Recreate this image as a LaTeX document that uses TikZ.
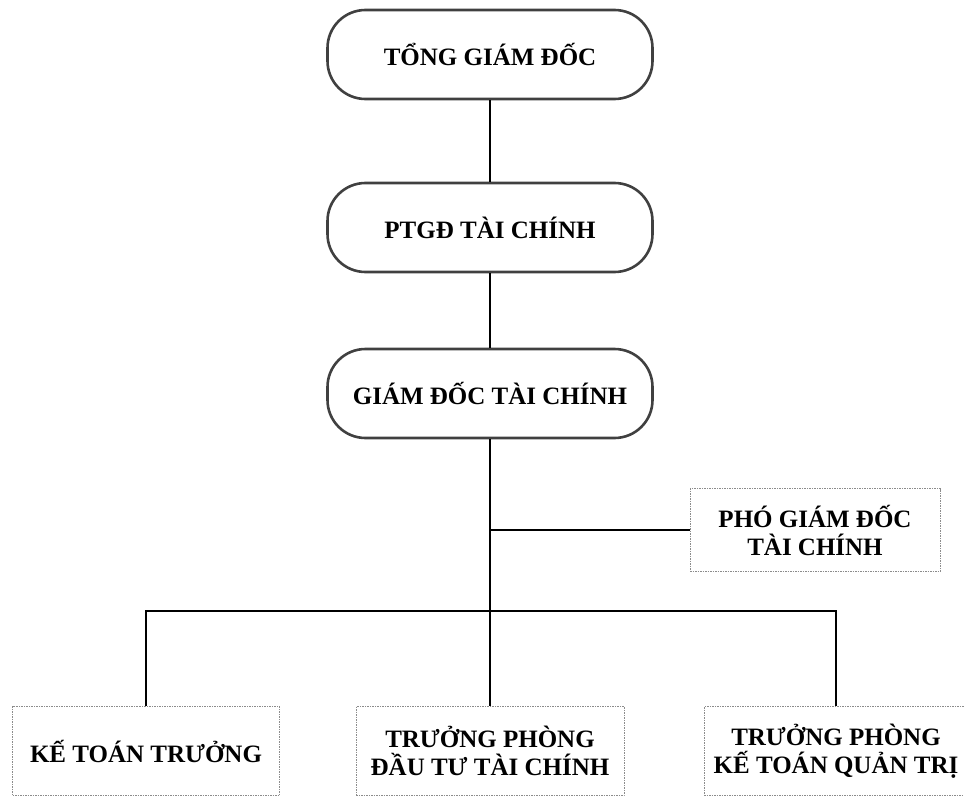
\documentclass[tikz,border=0pt]{standalone}
\usepackage{fontspec}
\setmainfont{Liberation Serif}
\begin{document}
\begin{tikzpicture}[x=1pt,y=-1pt,
  lbl/.style={font=\bfseries\fontsize{25}{28}\selectfont, align=center, inner sep=0pt},
  roundbox/.style={lbl, draw=black!75, line width=2.6pt, rounded corners=38pt,
    minimum width=325pt, minimum height=89pt},
  squarebox/.style={lbl, draw=black!45, line width=0.9pt, dash pattern=on 1.5pt off 1pt,
    minimum height=89pt},
  link/.style={draw=black, line width=1.8pt}]
  \useasboundingbox (0,0) rectangle (964,797);

  % upper chain of command
  \node[roundbox] (tgd)  at (490,54.5)  {TỔNG GIÁM ĐỐC};
  \node[roundbox] (ptgd) at (490,227.5) {PTGĐ TÀI CHÍNH};
  \node[roundbox] (gdtc) at (490,393.5) {GIÁM ĐỐC TÀI CHÍNH};

  % deputy on the side branch
  \node[squarebox, minimum width=250pt, minimum height=83pt] (pgd) at (815,530)
    {PHÓ GIÁM ĐỐC\\TÀI CHÍNH};

  % bottom row
  \node[squarebox, minimum width=267pt] (ktt) at (146,751) {KẾ TOÁN TRƯỞNG};
  \node[squarebox, minimum width=268pt] (dttc) at (490,751) {TRƯỞNG PHÒNG\\ĐẦU TƯ TÀI CHÍNH};
  \node[squarebox, minimum width=264pt] (ktqt) at (836,751) {TRƯỞNG PHÒNG\\KẾ TOÁN QUẢN TRỊ};

  \coordinate (bar) at (490,611);
  \coordinate (tap) at (bar |- pgd.west);
  \coordinate (barL) at (ktt.north |- bar);
  \coordinate (barR) at (ktqt.north |- bar);

  % connectors
  \draw[link] (tgd.south) -- (ptgd.north);
  \draw[link] (ptgd.south) -- (gdtc.north);
  \draw[link] (gdtc.south) -- (bar) -- (dttc.north);
  \draw[link] (tap) -- (pgd.west);
  \draw[link] (ktt.north) -- (barL) -- (barR) -- (ktqt.north);
\end{tikzpicture}
\end{document}
